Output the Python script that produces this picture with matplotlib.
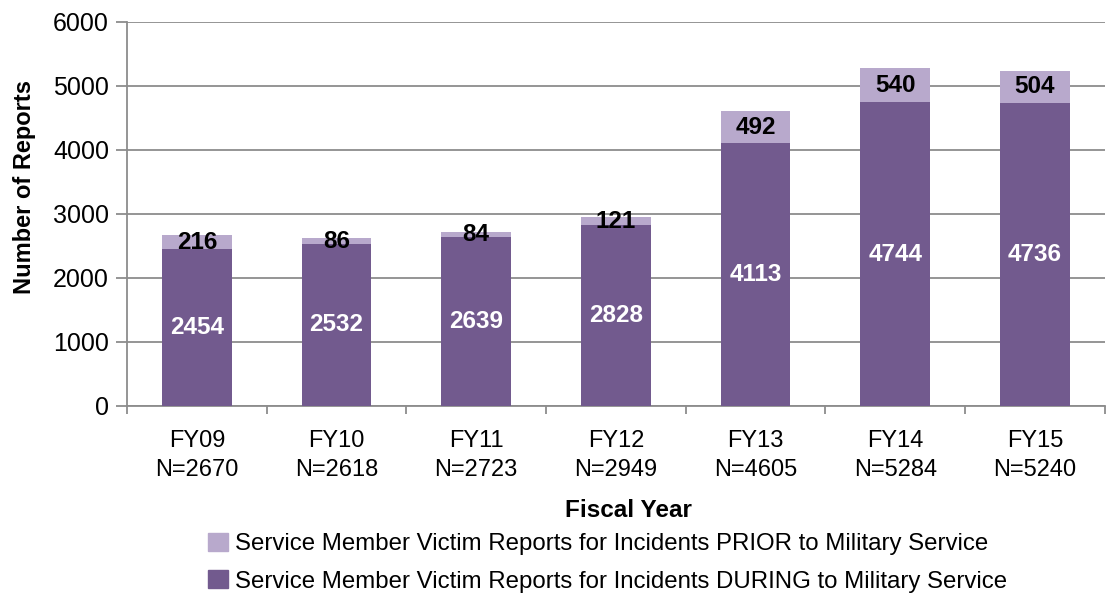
import matplotlib
matplotlib.use("Agg")
import matplotlib.pyplot as plt
from matplotlib import font_manager
from matplotlib.patches import Patch

years = ["FY09", "FY10", "FY11", "FY12", "FY13", "FY14", "FY15"]
totals = [2670, 2618, 2723, 2949, 4605, 5284, 5240]
during = [2454, 2532, 2639, 2828, 4113, 4744, 4736]
prior = [216, 86, 84, 121, 492, 540, 504]
legend_labels = ["Service Member Victim Reports for Incidents PRIOR to Military Service",
                 "Service Member Victim Reports for Incidents DURING to Military Service"]

names = {f.name for f in font_manager.fontManager.ttflist}
narrow = "Liberation Sans Narrow" if "Liberation Sans Narrow" in names else "Liberation Sans"
plt.rcParams['font.family'] = [narrow, 'DejaVu Sans']

dark = "#725a8e"
light = "#b8a9cc"

fig = plt.figure(figsize=(11.07, 5.94), dpi=100)
ax = fig.add_axes([0.1147, 0.3165, 0.8833, 0.6465])

x = list(range(len(years)))
ax.bar(x, during, width=0.5, color=dark, zorder=3)
ax.bar(x, prior, width=0.5, bottom=during, color=light, zorder=3)

for i in x:
    ax.text(i, during[i] / 2, str(during[i]), ha='center', va='center',
            color='white', fontsize=17.5, fontweight='bold', zorder=4)
    ax.text(i, during[i] + prior[i] / 2, str(prior[i]), ha='center', va='center',
            color='black', fontsize=17.5, fontweight='bold', zorder=4)

ax.set_xlim(-0.5, len(years) - 0.5)
ax.set_ylim(0, 6000)
ax.set_yticks(range(0, 6001, 1000))
ax.yaxis.grid(True, color='#8c8c8c', linewidth=1.3, zorder=0)
ax.set_axisbelow(True)
for s in ['top', 'right']:
    ax.spines[s].set_visible(False)
for s in ['left', 'bottom']:
    ax.spines[s].set_color('#8c8c8c')
    ax.spines[s].set_linewidth(1.3)

ax.set_xticks([i - 0.5 for i in range(len(years) + 1)])
ax.set_xticklabels([])
ax.tick_params(axis='x', length=6, color='#8c8c8c', width=1.3)
ax.tick_params(axis='y', length=8, color='#8c8c8c', width=1.3, labelsize=18, pad=5)

for i in x:
    ax.text(i, -380, f"{years[i]}\nN={totals[i]}", ha='center', va='top',
            fontsize=17, linespacing=1.4, transform=ax.transData)

ax.set_ylabel("Number of Reports", fontsize=17, fontweight='bold', labelpad=4)
ax.yaxis.set_label_coords(-0.093, 0.57)
fig.text(0.5675, 0.14, "Fiscal Year", ha='center', va='center',
         fontsize=17.5, fontweight='bold')

handles = [Patch(color=light), Patch(color=dark)]
fig.legend(handles, legend_labels, loc='center', bbox_to_anchor=(0.549, 0.053),
           ncol=1, frameon=False, fontsize=17.3, handlelength=0.8, handleheight=0.8,
           handletextpad=0.3, labelspacing=0.62, borderpad=0)

fig.savefig("out.png", dpi=100)
